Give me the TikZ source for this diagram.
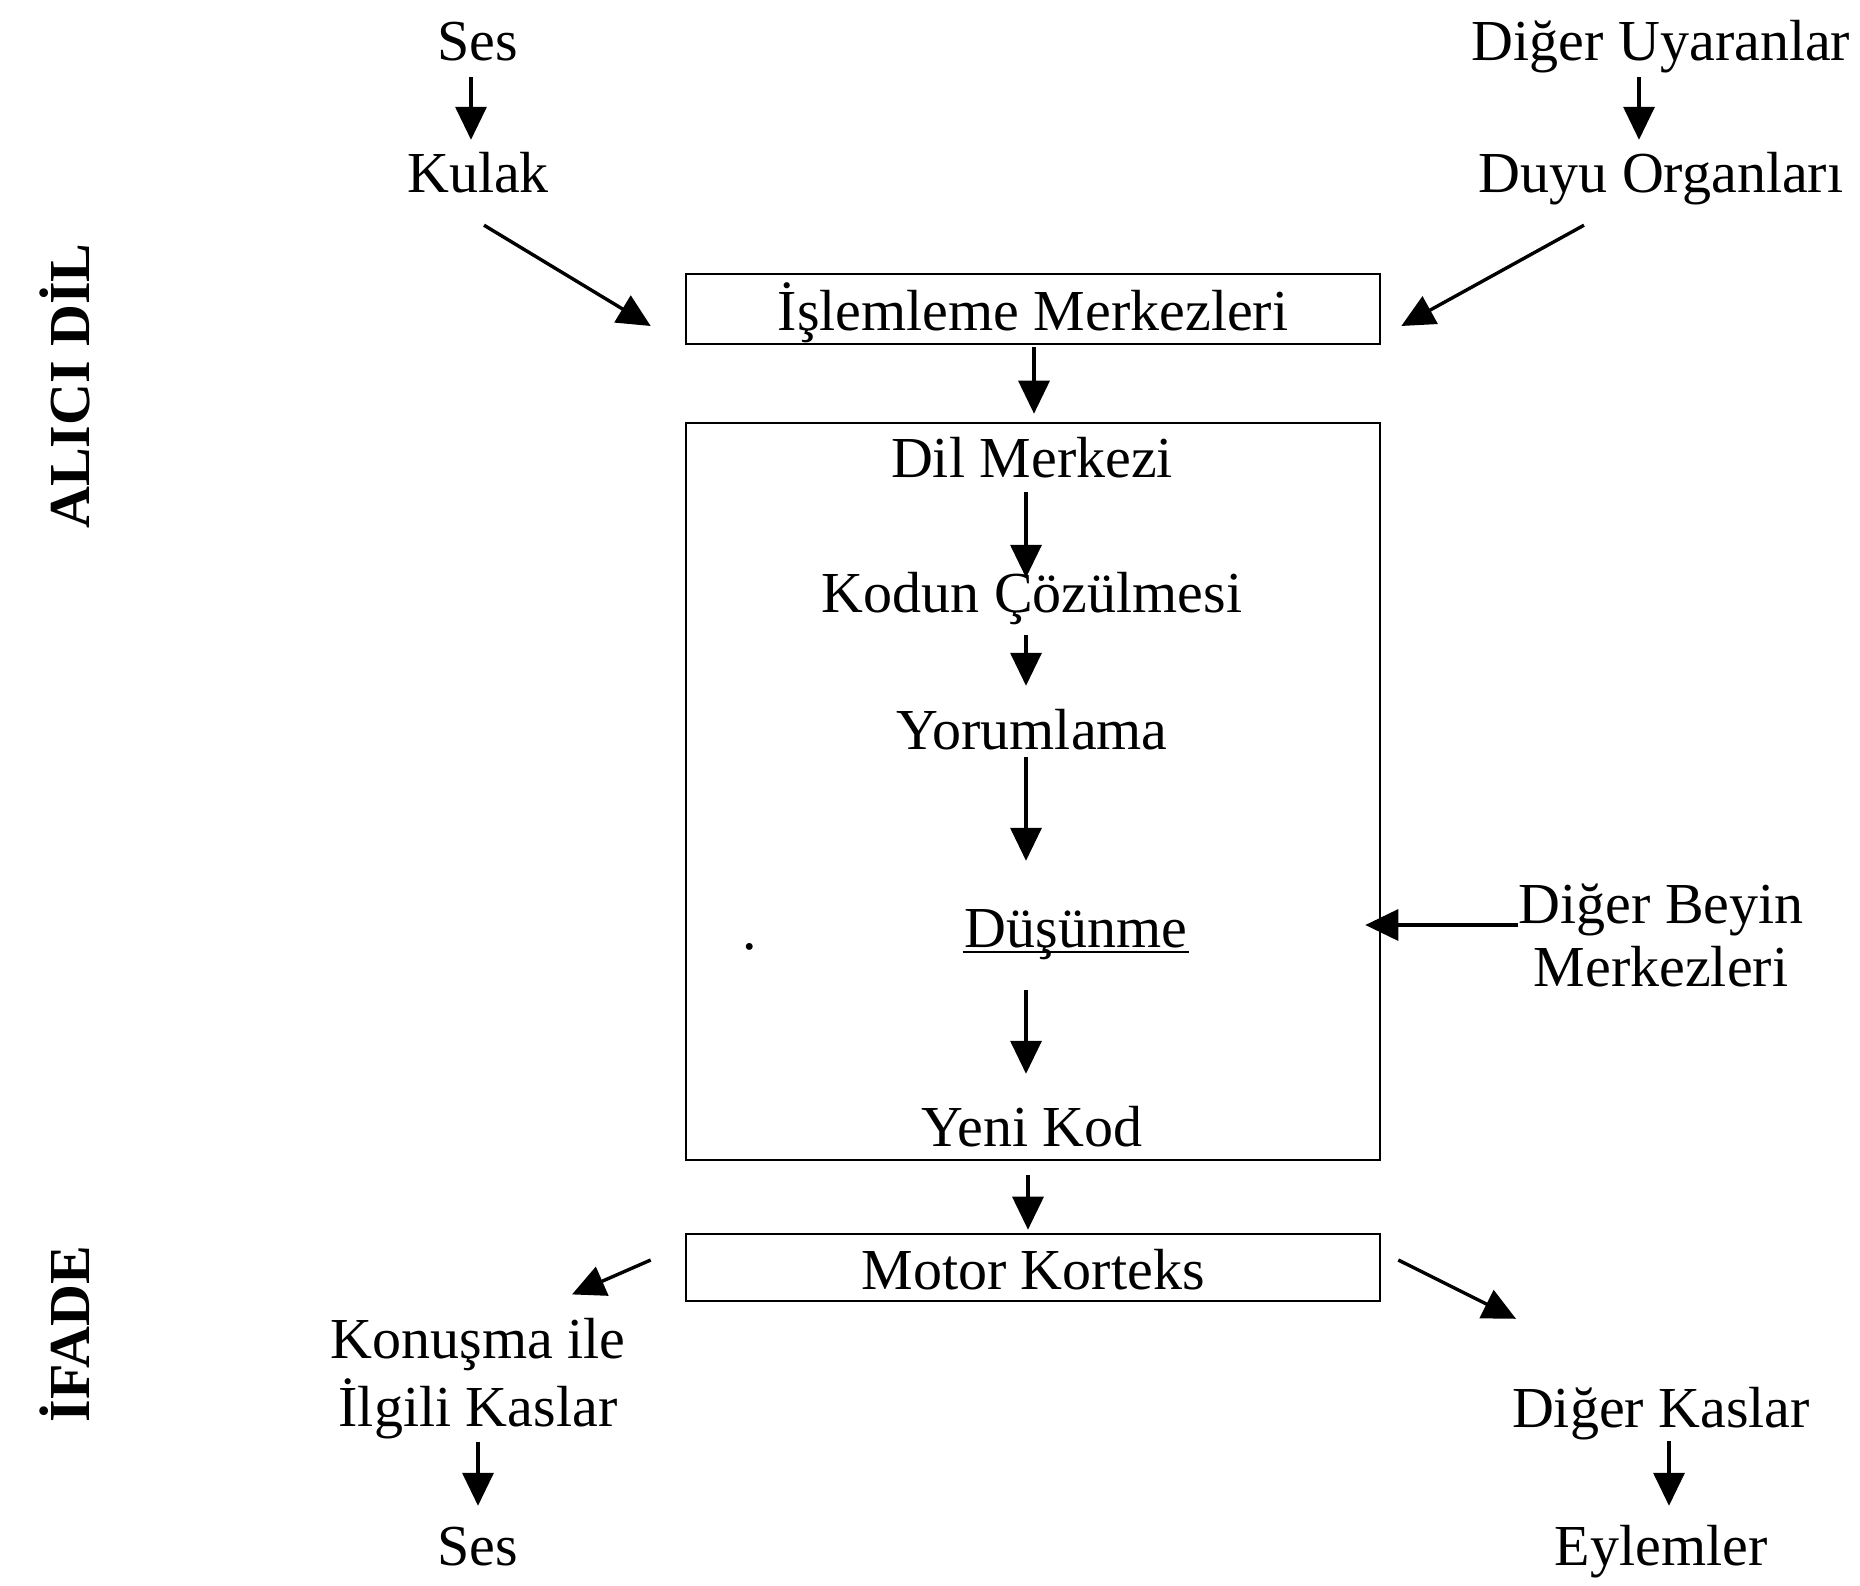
\documentclass[tikz,border=0pt]{standalone}
\usepackage{fontspec}
\setmainfont{Liberation Serif}
\usetikzlibrary{arrows.meta,calc}
\begin{document}
\begin{tikzpicture}[x=1pt,y=-1pt,
  txt/.style={inner sep=0pt, text height=40pt, text depth=12pt, font=\fontsize{58}{68}\selectfont},
  two/.style={inner sep=0pt, align=center, font=\fontsize{58}{#1}\selectfont},
  arr/.style={line width=3.4pt, -{Triangle[length=33pt,width=31pt]}},
  boxn/.style={draw, line width=2.6pt, inner sep=0pt, minimum width=694pt},
  boxtxt/.style={text height=48pt, text depth=4pt, font=\fontsize{58}{68}\selectfont},
  side/.style={inner sep=0pt, rotate=90, font=\bfseries\fontsize{58}{68}\selectfont}]
\useasboundingbox[fill=white] (0,0) rectangle (1860,1586);
% side labels
\node[side] (alici) at (65,386) {ALICI DİL};
\node[side] (ifade) at (65,1334) {İFADE};
% top inputs
\node[txt] (ses1) at (478,47) {Ses};
\node[txt] (kulak) at (478,179) {Kulak};
\node[txt] (du) at (1661,47) {Diğer Uyaranlar};
\node[txt] (do) at (1661,179) {Duyu Organları};
% boxes
\node[boxn, minimum height=70pt, boxtxt] (isl) at (1033,309) {İşlemleme Merkezleri};
\node[boxn, minimum height=737pt] (dilbox) at (1033,791.5) {};
\node[boxn, minimum height=67pt, boxtxt] (motor) at (1033,1267.5) {Motor Korteks};
% inner texts
\node[txt] (dm) at (1032,463) {Dil Merkezi};
\node[txt] (kc) at (1032,598) {Kodun Çözülmesi};
\node[txt] (yor) at (1032,735) {Yorumlama};
\node[txt] (dus) at (1076,933) {Düşünme};
\node[txt] (yk) at (1032,1132) {Yeni Kod};
\node[txt, anchor=base] (dot) at (750,949) {.};
\draw[line width=2.5pt] ($(dus.base west)+(-2,5)$) -- ($(dus.base east)+(2,5)$);
% right middle
\node[two=63pt] (dbm) at (1661,935) {Diğer Beyin\\Merkezleri};
% bottom outputs
\node[two=68pt] (kik) at (478,1379) {Konuşma ile\\İlgili Kaslar};
\node[txt] (ses2) at (478,1551) {Ses};
\node[txt] (dk) at (1661,1413) {Diğer Kaslar};
\node[txt] (eyl) at (1661,1551) {Eylemler};
% arrows
\draw[arr] ($(ses1.south)+(-7,4)$) -- ($(kulak.north)+(-7,-13)$);
\draw[arr] ($(kulak.south)+(6,20)$) -- ($(isl.west)+(-34,17)$);
\draw[arr] ($(du.south)+(-22,4)$) -- ($(do.north)+(-22,-13)$);
\draw[arr] ($(do.south)+(-77,20)$) -- ($(isl.east)+(20,17)$);
\draw[arr] ($(isl.south)+(1,2)$) -- ($(dilbox.north)+(1,-8)$);
\draw[arr] ($(dm.south)+(-6,3)$) -- ($(kc.north)+(-6,6)$);
\draw[arr] ($(kc.south)+(-6,11)$) -- ($(yor.north)+(-6,-23)$);
\draw[arr] ($(yor.south)+(-6,-4)$) -- ($(yor.south |- dus.north)+(-6,-46)$);
\draw[arr] ($(dus.south -| yk.north)+(-6,31)$) -- ($(yk.north)+(-6,-32)$);
\draw[arr] ($(dilbox.south)+(-5,14)$) -- ($(motor.north)+(-5,-3)$);
\draw[arr] ($(dbm.west)+(0,-10)$) -- ($(dilbox.east |- dbm.west)+(-16,-10)$);
\draw[arr] ($(motor.west)+(-34,-7.5)$) -- ($(kik.north)+(94,-24)$);
\draw[arr] ($(motor.east)+(17,-7.5)$) -- ($(dk.north)+(-145,-68)$);
\draw[arr] ($(kik.south)+(0,2)$) -- ($(ses2.north)+(0,-19)$);
\draw[arr] ($(dk.south)+(8,2)$) -- ($(eyl.north)+(8,-19)$);
\end{tikzpicture}
\end{document}
